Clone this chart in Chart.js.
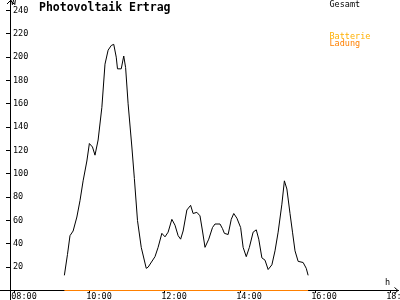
<!DOCTYPE html>
<html>
<head>
<meta charset="utf-8">
<script src="https://cdn.jsdelivr.net/npm/chart.js@4.4.1/dist/chart.umd.min.js"></script>
<style>
  html, body { margin: 0; padding: 0; background: #fff; }
  canvas { display: block; }
</style>
</head>
<body>
<canvas id="ertrag" width="400" height="300"></canvas>
<script>
// Gesamt (W)
const times = [
  "09:19", "09:24", "09:28", "09:33", "09:39", "09:44", "09:49", "09:55", "09:59", "10:04",
  "10:08", "10:13", "10:19", "10:24", "10:29", "10:34", "10:38", "10:42", "10:44", "10:50",
  "10:54", "10:57", "11:01", "11:07", "11:11", "11:16", "11:22", "11:30", "11:33", "11:44",
  "11:49", "11:55", "12:00", "12:05", "12:11", "12:16", "12:21", "12:25", "12:29", "12:35",
  "12:41", "12:45", "12:51", "12:56", "13:00", "13:04", "13:10", "13:16", "13:20", "13:28",
  "13:32", "13:35", "13:41", "13:46", "13:50", "13:55", "14:01", "14:05", "14:10", "14:15",
  "14:21", "14:26", "14:30", "14:35", "14:40", "14:45", "14:51", "14:56", "15:01", "15:07",
  "15:11", "15:15", "15:20", "15:24", "15:28", "15:33", "15:41", "15:46", "15:49"
];
const gesamt = [
  13, 31, 47, 51, 63, 77, 94, 111, 126, 123,
  116, 129, 157, 194, 206, 210, 211, 200, 190, 190,
  201, 191, 160, 123, 96, 60, 37, 19, 20, 29,
  37, 49, 46, 50, 61, 56, 47, 44, 51, 69,
  73, 66, 67, 64, 51, 37, 44, 54, 57, 57,
  53, 49, 48, 61, 66, 62, 54, 37, 29, 37,
  50, 52, 44, 28, 26, 18, 22, 34, 50, 74,
  94, 87, 66, 50, 34, 25, 24, 19, 13
];
// Ladung bleibt den ganzen Tag bei 0
const ladungTimes = ["09:19", "15:49"];
const ladung = [0, 0];

const xTickHours = [8, 10, 12, 14, 16, 18];
const yTickValues = [20, 40, 60, 80, 100, 120, 140, 160, 180, 200, 220, 240];
const legendLabels = ["Gesamt", "Batterie", "Ladung"];
const legendColors = ["#000000", "#ffb000", "#ff8000"];

const toHours = (t) => {
  const [h, m] = t.split(":").map(Number);
  return h + m / 60;
};

const mono = "'DejaVu Sans Mono', 'Liberation Mono', monospace";

const decorations = {
  id: "decorations",
  afterDraw(chart) {
    const { ctx, chartArea } = chart;
    const left = chartArea.left + 0.5;
    const bottom = chartArea.bottom + 0.5;
    ctx.save();
    ctx.strokeStyle = "#000";
    ctx.lineWidth = 1;
    ctx.beginPath();
    // Achsen etwas verlaengern
    ctx.moveTo(0, bottom); ctx.lineTo(chartArea.left, bottom);
    ctx.moveTo(left, chartArea.bottom); ctx.lineTo(left, chart.height);
    // Pfeile
    ctx.moveTo(left - 3.5, 4); ctx.lineTo(left, 0.5); ctx.lineTo(left + 3.5, 4);
    ctx.moveTo(chartArea.right - 3.5, bottom - 3); ctx.lineTo(chartArea.right, bottom); ctx.lineTo(chartArea.right - 3.5, bottom + 3);
    ctx.stroke();

    ctx.fillStyle = "#000";
    ctx.textBaseline = "alphabetic";
    ctx.textAlign = "left";
    ctx.font = "bold 11.5px " + mono;
    ctx.fillText("Photovoltaik Ertrag", 39, 11);

    ctx.font = "8.5px " + mono;
    ctx.fillText("W", chartArea.left + 1, 5);
    ctx.fillText("h", 385, 284.5);

    const legendY = [7, 38.5, 46];
    legendLabels.forEach((label, i) => {
      ctx.fillStyle = legendColors[i];
      ctx.fillText(label, 329.5, legendY[i]);
    });
    ctx.restore();
  }
};

new Chart(document.getElementById("ertrag"), {
  type: "line",
  data: {
    datasets: [
      {
        label: "Gesamt",
        data: times.map((t, i) => ({ x: toHours(t), y: gesamt[i] })),
        borderColor: "#000000",
        borderWidth: 1,
        pointRadius: 0,
        tension: 0,
      },
      {
        label: "Ladung",
        data: ladungTimes.map((t, i) => ({ x: toHours(t), y: ladung[i] })),
        borderColor: "#ff8000",
        borderWidth: 1,
        pointRadius: 0,
        tension: 0,
        clip: false,
      },
    ],
  },
  options: {
    responsive: false,
    animation: false,
    devicePixelRatio: 1,
    layout: {
      autoPadding: false,
      padding: { left: 0, right: 2, top: 0, bottom: 0 },
    },
    scales: {
      x: {
        type: "linear",
        position: "bottom",
        min: 7.8667,
        max: 18.2133,
        afterFit: (scale) => {
          scale.height = 10;
          scale.paddingLeft = 0;
          scale.paddingRight = 0;
        },
        afterBuildTicks: (scale) => { scale.ticks = xTickHours.map((v) => ({ value: v })); },
        grid: { drawOnChartArea: false, tickLength: 3, color: "#000" },
        border: { display: true, color: "#000", width: 1 },
        ticks: {
          autoSkip: false,
          maxRotation: 0,
          padding: 0,
          labelOffset: 9,
          color: "#000",
          font: { family: mono, size: 8.5, lineHeight: 1 },
          callback: (v) => String(v).padStart(2, "0") + ":00",
        },
      },
      y: {
        type: "linear",
        position: "left",
        min: 0.4286,
        max: 249.0,
        afterFit: (scale) => {
          scale.width = 10;
          scale.paddingTop = 0;
          scale.paddingBottom = 0;
        },
        afterBuildTicks: (scale) => { scale.ticks = yTickValues.map((v) => ({ value: v })); },
        grid: { drawOnChartArea: false, tickLength: 4, color: "#000" },
        border: { display: true, color: "#000", width: 1 },
        ticks: {
          mirror: true,
          padding: 3,
          color: "#000",
          font: { family: mono, size: 8.5, lineHeight: 1 },
          callback: (v) => String(v),
        },
      },
    },
    plugins: {
      legend: { display: false },
      tooltip: { enabled: false },
      title: { display: false },
    },
  },
  plugins: [decorations],
});
</script>
</body>
</html>
